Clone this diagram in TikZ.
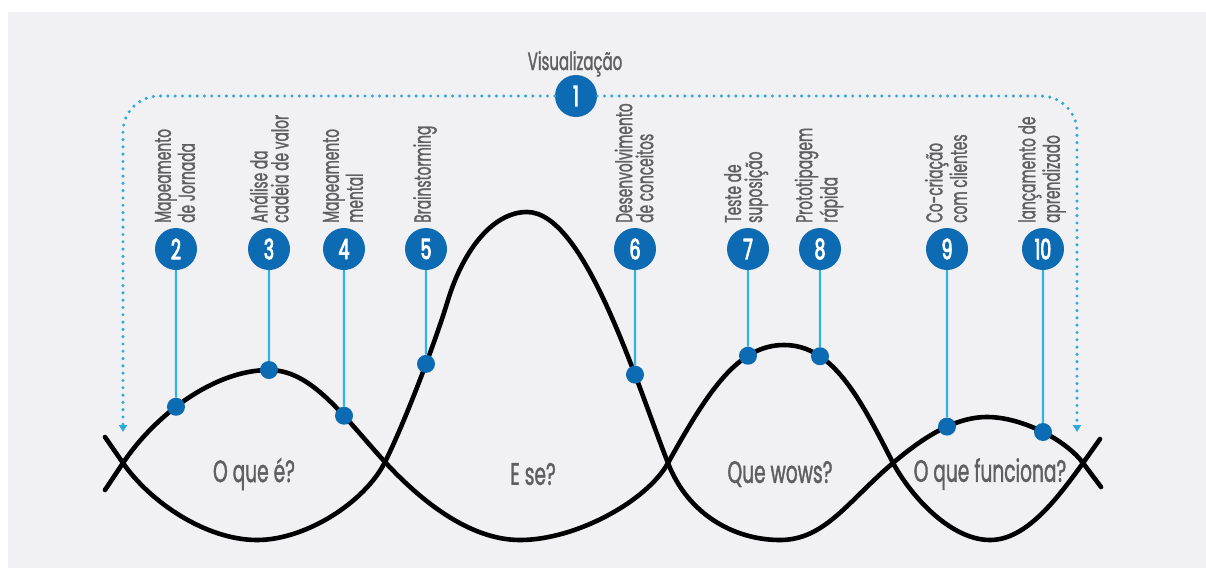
\documentclass[tikz,border=0pt]{standalone}
\usepackage{fontspec}
\newfontfamily\cond[FakeStretch=0.6,FakeBold=1.2]{Poppins}
\newfontfamily\condnum[FakeStretch=0.62,FakeBold=3]{Poppins}
\usetikzlibrary{arrows.meta,intersections}
\definecolor{bg}{HTML}{F1F1F3}
\definecolor{numblue}{HTML}{0D6BB3}
\definecolor{lineblue}{HTML}{2DB3E6}
\definecolor{dotblue}{HTML}{2DA9DD}
\definecolor{txtgray}{HTML}{5F5F62}
\begin{document}
\begin{tikzpicture}[x=1pt,y=-1pt,
  curve/.style={line width=4.6pt, black, line cap=round, line join=round},
  numc/.style={circle, fill=numblue, minimum size=42pt, inner sep=0pt, text=white, font=\condnum\fontsize{28}{28}\selectfont},
  dotc/.style={circle, fill=numblue, minimum size=18pt, inner sep=0pt},
  stem/.style={lineblue, line width=2.4pt},
  vis/.style={dotblue, line width=3.4pt, line cap=round, dash pattern=on 0pt off 7.3pt, rounded corners=36pt},
  lbl/.style={rotate=90, anchor=west, align=left, inner sep=0pt, text=txtgray, font=\cond\fontsize{23}{21}\selectfont},
  phase/.style={text=txtgray, font=\cond\fontsize{31}{31}\selectfont, inner sep=0pt}
]
\useasboundingbox (0,0) rectangle (1206,568);
\fill[white] (0,0) rectangle (1206,568);
\fill[bg] (8,12) rectangle (1206,568);

% curves
\draw[curve, name path global=A] (105,437) -- (123,463)
  .. controls (150,502) and (206,540) .. (257,540)
  .. controls (306,540) and (365,502) .. (385,462)
  .. controls (405,422) and (436,340) .. (448,300)
  .. controls (464,248) and (494,212) .. (527,212)
  .. controls (585,212) and (636,382) .. (668,463)
  .. controls (688,515) and (735,540) .. (780,540)
  .. controls (825,540) and (848,501) .. (893,463)
  .. controls (920,440) and (953,417) .. (987,417)
  .. controls (1022,417) and (1066,440) .. (1083,463)
  -- (1101,487);
\draw[curve, name path global=B] (105,490) -- (123,463)
  .. controls (154,416.5) and (213,370) .. (269,370)
  .. controls (312,370) and (343,416) .. (385,462)
  .. controls (420,500) and (469,540) .. (520,540)
  .. controls (576,540) and (647,501) .. (668,463)
  .. controls (708,391) and (738,345) .. (784,345)
  .. controls (832,345) and (859,396) .. (893,463)
  .. controls (914,501) and (953,540) .. (990,540)
  .. controls (1025,540) and (1055,502) .. (1083,463)
  -- (1100,439);

% vertical guides for intersections
\path[name path=v2] (176,250) -- (176,565);
\path[name path=v3] (269,250) -- (269,565);
\path[name path=v4] (344,250) -- (344,565);
\path[name path=v5] (426,250) -- (426,565);
\path[name path=v6] (635,250) -- (635,565);
\path[name path=v7] (748,250) -- (748,565);
\path[name path=v8] (820,250) -- (820,565);
\path[name path=v9] (947,250) -- (947,565);
\path[name path=v10] (1043,250) -- (1043,565);
\path[name intersections={of=B and v2, by=d2}];
\path[name intersections={of=B and v3, by=d3}];
\path[name intersections={of=B and v4, by=d4}];
\path[name intersections={of=A and v5, by=d5}];
\path[name intersections={of=A and v6, by=d6}];
\path[name intersections={of=B and v7, by=d7}];
\path[name intersections={of=B and v8, by=d8}];
\path[name intersections={of=A and v9, by=d9}];
\path[name intersections={of=A and v10, by=d10}];

% number circles
\node[numc] (n1) at (576,96) {1};
\node[numc] (n2) at (176,249) {2};
\node[numc] (n3) at (269,249) {3};
\node[numc] (n4) at (344,249) {4};
\node[numc] (n5) at (426,249) {5};
\node[numc] (n6) at (635,249) {6};
\node[numc] (n7) at (748,249) {7};
\node[numc] (n8) at (820,249) {8};
\node[numc] (n9) at (947,249) {9};
\node[numc] (n10) at (1043,249) {10};

% dots on curves
\foreach \i in {2,...,10}{
  \node[dotc] (p\i) at (d\i) {};
  \draw[stem] (n\i) -- (p\i);
}

% visualisation dotted loop
\coordinate (la) at (123,432);
\coordinate (ra) at (1077,432);
\draw[vis, -{Triangle[width=8pt,length=7pt]}] (n1) -| (la);
\draw[vis, -{Triangle[width=8pt,length=7pt]}] (n1) -| (ra);

% labels
\node[text=txtgray, font=\cond\fontsize{25}{25}\selectfont, anchor=base, inner sep=0pt] (t1) at (575,70) {Visualização};
\node[lbl] (t2) at (175,223) {Mapeamento\\de Jornada};
\node[lbl] (t3) at (269,223) {Análise da\\cadeia de valor};
\node[lbl] (t4) at (343,223) {Mapeamento\\mental};
\node[lbl] (t5) at (425,223) {Brainstorming};
\node[lbl] (t6) at (634,223) {Desenvolvimento\\de conceitos};
\node[lbl] (t7) at (746,223) {Teste de\\suposição};
\node[lbl] (t8) at (819,223) {Prototipagem\\rápida};
\node[lbl] (t9) at (946,223) {Co-criação\\com clientes};
\node[lbl] (t10) at (1042,223) {lançamento de\\aprendizado};

\node[phase] (ph1) at (254,474) {O que é?};
\node[phase] (ph2) at (533,474) {E se?};
\node[phase] (ph3) at (780,474) {Que wows?};
\node[phase] (ph4) at (990,474) {O que funciona?};
\end{tikzpicture}
\end{document}
